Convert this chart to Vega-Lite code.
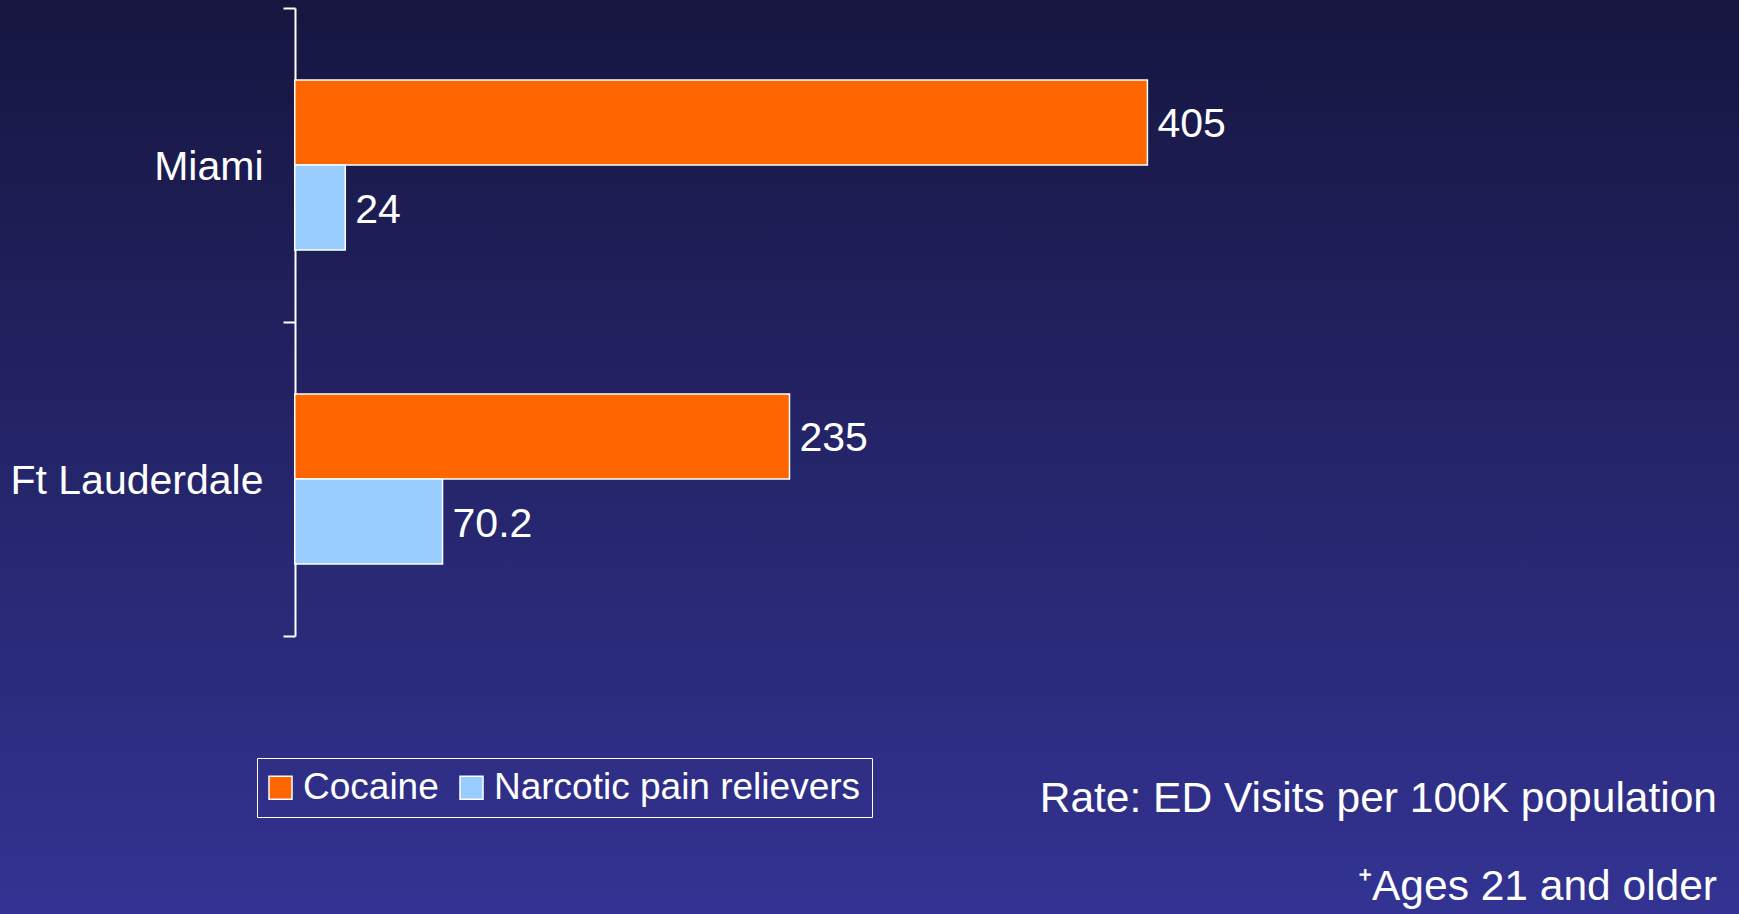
{
  "$schema": "https://vega.github.io/schema/vega-lite/v6.json",
  "width": 1739,
  "height": 914,
  "autosize": {"type": "none"},
  "padding": 0,
  "background": "#26267a",
  "config": {
    "view": {"stroke": null, "fill": {"gradient": "linear", "x1": 0, "y1": 0, "x2": 0, "y2": 1, "stops": [{"offset": 0, "color": "#161640"}, {"offset": 1, "color": "#333393"}]}},
    "font": "Liberation Sans"
  },
  "data": {"values": [
    {"city": "Miami", "drug": "Cocaine", "value": 405},
    {"city": "Miami", "drug": "Narcotic pain relievers", "value": 24},
    {"city": "Ft Lauderdale", "drug": "Cocaine", "value": 235},
    {"city": "Ft Lauderdale", "drug": "Narcotic pain relievers", "value": 70.2}
  ]},
  "title": {
    "text": ["Rate: ED Visits per 100K population", "⁺Ages 21 and older"],
    "orient": "bottom", "anchor": "end", "offset": -136, "dx": -22,
    "fontSize": 42.5, "fontWeight": "normal", "color": "white", "lineHeight": 88, "font": "Liberation Sans"
  },
  "encoding": {
    "y": {
      "field": "city", "type": "nominal", "sort": ["Miami", "Ft Lauderdale"],
      "scale": {"range": [8, 636], "paddingInner": 0, "paddingOuter": 0},
      "axis": {"title": null, "orient": "left", "offset": -295, "domainColor": "white", "domainWidth": 2, "tickColor": "white", "tickWidth": 2, "tickSize": 12, "tickBand": "extent", "labelColor": "white", "labelFontSize": 41, "labelPadding": 20, "labelOffset": 2, "labelFont": "Liberation Sans", "labelLimit": 0, "grid": false}
    },
    "yOffset": {"field": "drug", "type": "nominal", "sort": ["Cocaine", "Narcotic pain relievers"], "scale": {"paddingInner": 0, "paddingOuter": 0.847}},
    "x": {"field": "value", "type": "quantitative", "scale": {"domain": [-140, 686], "nice": false, "zero": false}, "axis": null}
  },
  "layer": [
    {
      "mark": {"type": "bar", "stroke": "white", "strokeWidth": 1.5},
      "encoding": {
        "x2": {"datum": 0},
        "color": {
          "field": "drug", "type": "nominal",
          "scale": {"domain": ["Cocaine", "Narcotic pain relievers"], "range": ["#ff6600", "#99ccff"]},
          "legend": {"orient": "none", "legendX": 257, "legendY": 758, "direction": "horizontal", "title": null, "labelFontSize": 37, "labelColor": "white", "labelFont": "Liberation Sans", "labelLimit": 0, "symbolType": "square", "symbolSize": 529, "symbolStrokeColor": "white", "symbolStrokeWidth": 1.5, "symbolOpacity": 1, "symbolOffset": -6, "strokeColor": "white", "padding": 11, "labelOffset": 4, "columnPadding": 18}
        }
      }
    },
    {
      "mark": {"type": "text", "align": "left", "baseline": "middle", "dx": 10, "dy": 3, "fontSize": 41, "color": "white", "font": "Liberation Sans"},
      "encoding": {"text": {"field": "value", "type": "quantitative", "format": "~g"}}
    }
  ]
}
